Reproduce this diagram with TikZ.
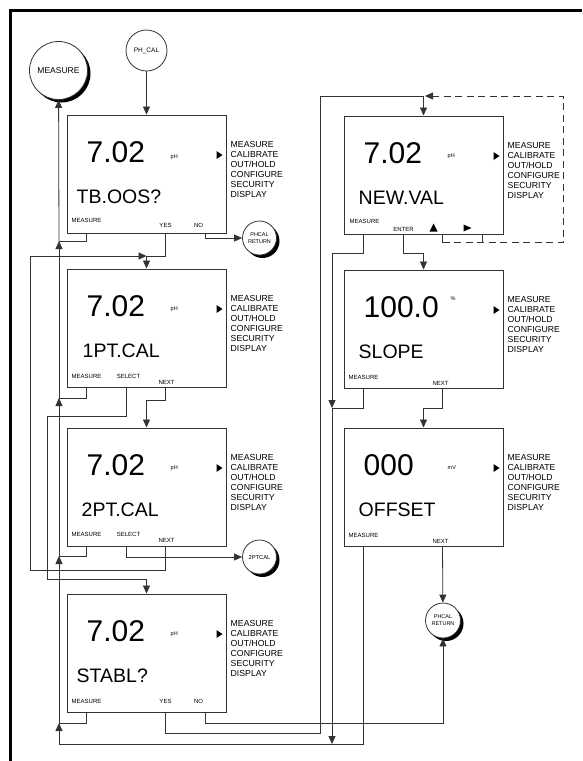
\documentclass[tikz,border=0pt]{standalone}
\usepackage{fontspec}
\setmainfont{Liberation Sans}
\usetikzlibrary{calc,arrows.meta,shadows}

\tikzset{
  boite/.style={draw=black!80, line width=1pt, minimum width=159pt, minimum height=118pt, inner sep=0pt},
  valeur/.style={anchor=base west, inner sep=0pt, font=\fontsize{30}{36}\selectfont},
  texte/.style={anchor=base west, inner sep=0pt, font=\fontsize{19.5}{23}\selectfont},
  unite/.style={anchor=base west, inner sep=0pt, font=\fontsize{5.5}{6}\selectfont},
  menu/.style={anchor=base west, inner sep=0pt, font=\fontsize{8.7}{10}\selectfont},
  touche/.style={anchor=base, inner sep=0pt, font=\fontsize{6}{7}\selectfont},
  rond/.style={circle, draw=black!80, line width=0.8pt, fill=white, inner sep=0pt, align=center},
  ombre/.style={drop shadow={fill=black, opacity=1, shadow xshift=3pt, shadow yshift=-3pt}},
  lien/.style={draw=black!80, line width=0.8pt},
}

%Ecran : nom, centre, valeur, decalage du message, message
\newcommand{\ecran}[5]{%
  \node[boite] (#1) at #2 {};
  \node[valeur] (#1-val) at ($(#1.north west)+(20,48)$) {#3};
  \node[texte] (#1-msg) at ($(#1.north west)+(#4,89)$) {#5};
  \fill ($(#1.north west)+(150,36.5)$) -- ++(6,4) -- ++(-6,4) -- cycle;
  \foreach \ligne [count=\i] in {MEASURE,CALIBRATE,OUT/HOLD,CONFIGURE,SECURITY,DISPLAY}
    \node[menu] (#1-menu\i) at ($(#1.north west)+(164,23+10*\i)$) {\ligne};
  \coordinate (#1-m) at ($(#1.south west)+(20,0)$);
  \coordinate (#1-s) at ($(#1.south west)+(60,0)$);
  \coordinate (#1-n) at ($(#1.south west)+(99,0)$);
  \coordinate (#1-o) at ($(#1.south west)+(139,0)$);
}

\begin{document}
\begin{tikzpicture}[x=1pt, y=-1pt, >={Triangle[width=7pt,length=8pt]}]
  \useasboundingbox (0,0) rectangle (582,761);

  %cadre
  \draw[line width=3.5pt] (10.5,761) -- (10.5,10.5) -- (582,10.5);

  %Ecrans de gauche
  \ecran{tboos}{(146.5,174)}{7.02}{10}{TB.OOS?}
  \ecran{unpt}{(146.5,328)}{7.02}{16}{1PT.CAL}
  \ecran{deuxpt}{(146.5,487)}{7.02}{15}{2PT.CAL}
  \ecran{stabl}{(146.5,653)}{7.02}{10}{STABL?}

  %Ecrans de droite
  \ecran{newval}{(423.5,175)}{7.02}{15}{NEW.VAL}
  \ecran{pente}{(423.5,329)}{100.0}{15}{SLOPE}
  \ecran{offs}{(423.5,487)}{000}{15}{OFFSET}

  %Unites
  \node[unite] (tboos-u) at ($(tboos.north west)+(104,44)$) {pH};
  \node[unite] (unpt-u) at ($(unpt.north west)+(104,42)$) {pH};
  \node[unite] (deuxpt-u) at ($(deuxpt.north west)+(104,42)$) {pH};
  \node[unite] (stabl-u) at ($(stabl.north west)+(104,42)$) {pH};
  \node[unite] (newval-u) at ($(newval.north west)+(104,42)$) {pH};
  \node[unite] (pente-u) at ($(pente.north west)+(107,31)$) {\%};
  \node[unite] (offs-u) at ($(offs.north west)+(104,42)$) {mV};

  %Touches
  \node[touche] (tboos-k1) at ($(tboos.north west)+(20,108)$) {MEASURE};
  \node[touche] (tboos-k2) at ($(tboos.north west)+(99,113)$) {YES};
  \node[touche] (tboos-k3) at ($(tboos.north west)+(132,113)$) {NO};
  \node[touche] (unpt-k1) at ($(unpt.north west)+(20,110)$) {MEASURE};
  \node[touche] (unpt-k2) at ($(unpt.north west)+(62,110)$) {SELECT};
  \node[touche] (unpt-k3) at ($(unpt.north west)+(100,116)$) {NEXT};
  \node[touche] (deuxpt-k1) at ($(deuxpt.north west)+(20,109)$) {MEASURE};
  \node[touche] (deuxpt-k2) at ($(deuxpt.north west)+(62,109)$) {SELECT};
  \node[touche] (deuxpt-k3) at ($(deuxpt.north west)+(100,115)$) {NEXT};
  \node[touche] (stabl-k1) at ($(stabl.north west)+(20,110)$) {MEASURE};
  \node[touche] (stabl-k2) at ($(stabl.north west)+(99,110)$) {YES};
  \node[touche] (stabl-k3) at ($(stabl.north west)+(132,110)$) {NO};
  \node[touche] (newval-k1) at ($(newval.north west)+(21,108)$) {MEASURE};
  \node[touche] (newval-k2) at ($(newval.north west)+(60,116)$) {ENTER};
  \fill ($(newval.north west)+(86,116)$) -- ++(4,-8) -- ++(4,8) -- cycle;
  \fill ($(newval.north west)+(120,109)$) -- ++(8,3.5) -- ++(-8,3.5) -- cycle;
  \node[touche] (pente-k1) at ($(pente.north west)+(20,110)$) {MEASURE};
  \node[touche] (pente-k2) at ($(pente.north west)+(97,116)$) {NEXT};
  \node[touche] (offs-k1) at ($(offs.north west)+(20,110)$) {MEASURE};
  \node[touche] (offs-k2) at ($(offs.north west)+(97,116)$) {NEXT};

  %Ronds
  \node[rond, ombre, minimum size=58pt, font=\fontsize{8.5}{10}\selectfont] (mesure) at (58.5,70.5) {MEASURE};
  \node[rond, minimum size=41pt, font=\fontsize{6.5}{8}\selectfont] (phcal) at (146.5,50.5) {PH\_CAL};
  \node[rond, ombre, minimum size=34pt, font=\fontsize{5.5}{7}\selectfont] (retour1) at (259.5,238) {PHCAL\\RETURN};
  \node[rond, ombre, minimum size=34pt, font=\fontsize{5.8}{7}\selectfont] (ptcal) at (259.5,557) {2PTCAL};
  \node[rond, ombre, minimum size=35pt, font=\fontsize{5.5}{7}\selectfont] (retour2) at (443,620.5) {PHCAL\\RETURN};

  %PH_CAL vers TB.OOS?
  \draw[lien,->] (phcal) -- (tboos);

  %TB.OOS?
  \draw[lien] (tboos-m) |- (59,241);
  \draw[lien,->] (tboos-n) |- (146.5,256) -- (unpt);
  \draw[lien,->] (tboos-o) |- (retour1);

  %1PT.CAL
  \draw[lien] (unpt-m) |- (59,398);
  \draw[lien,->] (unpt-s) |- (47,416) |- (146.5,579) -- (stabl);
  \draw[lien,->] (unpt-n) |- (146.5,400) -- (deuxpt);

  %2PT.CAL
  \draw[lien] (deuxpt-m) |- (59,556);
  \draw[lien,->] (deuxpt-s) |- (ptcal);
  \draw[lien,->] (deuxpt-n) |- (30,570) |- (146.5,256);

  %STABL?
  \draw[lien] (stabl-m) |- (59,723);
  \draw[lien,->] (stabl-n) |- (320,733) |- (423.5,96) -- (newval);
  \draw[lien,->] (stabl-o) |- (443,723) -- (retour2);

  %NEW.VAL
  \draw[lien] (newval-m) |- (332,253);
  \draw[lien,->] (newval-s) |- (423.5,253) -- (pente);
  \draw[lien] (newval-n) -- ++(0,8);
  \draw[lien] (newval-o) -- ++(0,8);
  \draw[lien,dashed,dash pattern=on 7pt off 4.5pt,->] ($(newval-n)+(0,8)$) -| (563,96) -- (425,96);

  %SLOPE et OFFSET
  \draw[lien] (pente-m) |- (332,408);
  \draw[lien,->] (pente-n) |- (423.5,408) -- (offs);
  \draw[lien,->] (offs-n) -- (retour2);
  \draw[lien] (offs-m) |- (59,744);

  %Retours vers MEASURE
  \draw[lien,->] (332,253) -- (332,408);
  \draw[lien,->] (332,408) -- (332,744);
  \foreach \a/\b in {744/723,723/556,556/398,398/241}
    \draw[lien,->] (59,\a) -- (59,\b);
  \draw[lien,->] (59,241) -- (mesure);
\end{tikzpicture}
\end{document}
